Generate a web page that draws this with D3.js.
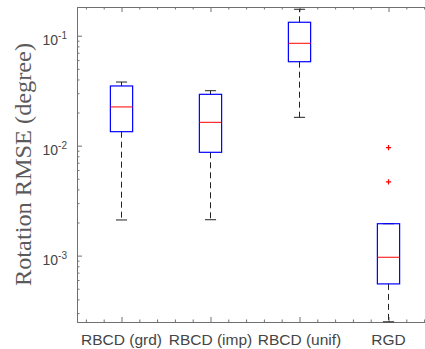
<!DOCTYPE html>
<html>
<head>
<meta charset="utf-8">
<script src="https://cdn.jsdelivr.net/npm/d3@7"></script>
<style>
  html, body { margin: 0; padding: 0; background: #fff; }
  svg { display: block; }
</style>
</head>
<body>
<div id="chart"></div>
<script>
// valores (RMSE de rotacion, escala log)
const categorias = ['RBCD (grd)', 'RBCD (imp)', 'RBCD (unif)', 'RGD'];
const bigoteInferior = [0.00211, 0.00212, 0.0181, 0.00025];
const cuartil1 = [0.0134, 0.0087, 0.058, 0.000553];
const medianas = [0.0225, 0.0163, 0.0853, 0.000966];
const cuartil3 = [0.0349, 0.0293, 0.1325, 0.00195];
const bigoteSuperior = [0.0379, 0.0316, 0.174, 0.00195];
const atipicos = [[], [], [], [0.0096, 0.00468]];
const exponentesY = [-3, -2, -1];
const tituloY = 'Rotation RMSE (degree)';

const ancho = 425, alto = 349;
const margen = { izq: 77, der: 433, arriba: 7, abajo: 322 };

const svg = d3.select('#chart').append('svg')
    .attr('width', ancho)
    .attr('height', alto);

const escalaX = d3.scaleLinear().domain([0.5, 4.5]).range([margen.izq, margen.der]);
const escalaY = d3.scaleLog().domain([2.49e-4, 0.1824]).range([margen.abajo, margen.arriba]);

const colorEje = '#707070';
const colorTexto = '#454545';

// ticks menores del eje log: 2..9 x 10^k
const ticksMenoresY = [];
for (let k = -4; k <= -1; k++) {
    for (let m = 2; m <= 9; m++) {
        const v = m * Math.pow(10, k);
        if (v >= escalaY.domain()[0] && v <= escalaY.domain()[1]) ticksMenoresY.push(v);
    }
}
const ticksMayoresY = exponentesY.map(e => Math.pow(10, e));

// ticks menores del eje x cada 0.2
const ticksMenoresX = d3.range(0.6, 4.5, 0.2).map(v => +v.toFixed(1))
    .filter(v => Math.abs(v - Math.round(v)) > 1e-6);
const ticksMayoresX = categorias.map((c, i) => i + 1);

function estilarEje(g) {
    g.selectAll('path, line').attr('stroke', colorEje);
    g.selectAll('text').remove();
}

// eje izquierdo
svg.append('g').attr('transform', `translate(${margen.izq},0)`)
    .call(d3.axisLeft(escalaY).tickValues(ticksMenoresY).tickSizeInner(-2.5).tickSizeOuter(0).tickFormat(''))
    .call(estilarEje);
svg.append('g').attr('transform', `translate(${margen.izq},0)`)
    .call(d3.axisLeft(escalaY).tickValues(ticksMayoresY).tickSizeInner(-5).tickSizeOuter(0).tickFormat(''))
    .call(estilarEje);

// ejes superior e inferior
[['top', margen.arriba], ['bottom', margen.abajo]].forEach(([lado, pos]) => {
    const crear = lado === 'top' ? d3.axisTop : d3.axisBottom;
    svg.append('g').attr('transform', `translate(0,${pos})`)
        .call(crear(escalaX).tickValues(ticksMenoresX).tickSizeInner(-2.5).tickSizeOuter(0).tickFormat(''))
        .call(estilarEje);
    svg.append('g').attr('transform', `translate(0,${pos})`)
        .call(crear(escalaX).tickValues(ticksMayoresX).tickSizeInner(-5).tickSizeOuter(0).tickFormat(''))
        .call(estilarEje);
});

// etiquetas de categorias
svg.append('g')
    .selectAll('text')
    .data(categorias)
    .enter().append('text')
    .attr('x', (d, i) => escalaX(i + 1))
    .attr('y', 345)
    .attr('text-anchor', 'middle')
    .attr('font-family', '"Liberation Sans", Arial, sans-serif')
    .attr('font-size', 15.5)
    .attr('fill', colorTexto)
    .text(d => d);

// etiquetas 10^k
const etiquetasY = svg.append('g')
    .selectAll('text')
    .data(exponentesY)
    .enter().append('text')
    .attr('x', 67)
    .attr('y', d => escalaY(Math.pow(10, d)) + 9)
    .attr('text-anchor', 'end')
    .attr('font-family', '"Liberation Sans", Arial, sans-serif')
    .attr('font-size', 14)
    .attr('fill', colorTexto);
etiquetasY.append('tspan').text('10');
etiquetasY.append('tspan')
    .attr('dy', -6)
    .attr('font-size', 10)
    .text(d => '-' + Math.abs(d));

// titulo del eje y
svg.append('text')
    .attr('transform', `translate(31,${(margen.arriba + margen.abajo) / 2}) rotate(-90)`)
    .attr('text-anchor', 'middle')
    .attr('font-family', '"Liberation Serif", "Times New Roman", serif')
    .attr('font-size', 23)
    .attr('textLength', 243)
    .attr('lengthAdjust', 'spacingAndGlyphs')
    .attr('fill', '#5a5a5a')
    .text(tituloY);

// cajas
const anchoCaja = escalaX(0.75) - escalaX(0.5);
const anchoTope = escalaX(0.625) - escalaX(0.5);
const cajas = svg.append('g')
    .selectAll('g')
    .data(categorias.map((c, i) => i))
    .enter().append('g');

// bigotes discontinuos
cajas.append('line')
    .attr('x1', i => escalaX(i + 1)).attr('x2', i => escalaX(i + 1))
    .attr('y1', i => escalaY(cuartil3[i])).attr('y2', i => escalaY(bigoteSuperior[i]))
    .attr('stroke', '#222').attr('stroke-dasharray', '6,4');
cajas.append('line')
    .attr('x1', i => escalaX(i + 1)).attr('x2', i => escalaX(i + 1))
    .attr('y1', i => escalaY(cuartil1[i])).attr('y2', i => escalaY(bigoteInferior[i]))
    .attr('stroke', '#222').attr('stroke-dasharray', '6,4');

// topes
[bigoteSuperior, bigoteInferior].forEach(valores => {
    cajas.append('line')
        .attr('x1', i => escalaX(i + 1) - anchoTope / 2)
        .attr('x2', i => escalaX(i + 1) + anchoTope / 2)
        .attr('y1', i => escalaY(valores[i]))
        .attr('y2', i => escalaY(valores[i]))
        .attr('stroke', '#222');
});

cajas.append('rect')
    .attr('x', i => escalaX(i + 1) - anchoCaja / 2)
    .attr('width', anchoCaja)
    .attr('y', i => escalaY(cuartil3[i]))
    .attr('height', i => escalaY(cuartil1[i]) - escalaY(cuartil3[i]))
    .attr('fill', 'none')
    .attr('stroke', '#0000ff')
    .attr('stroke-width', 1.2);

cajas.append('line')
    .attr('x1', i => escalaX(i + 1) - anchoCaja / 2)
    .attr('x2', i => escalaX(i + 1) + anchoCaja / 2)
    .attr('y1', i => escalaY(medianas[i]))
    .attr('y2', i => escalaY(medianas[i]))
    .attr('stroke', '#ff0000');

// valores atipicos
const puntosAtipicos = [];
atipicos.forEach((lista, i) => lista.forEach(v => puntosAtipicos.push({ i, v })));
svg.append('g')
    .selectAll('path')
    .data(puntosAtipicos)
    .enter().append('path')
    .attr('d', p => {
        const cx = escalaX(p.i + 1), cy = escalaY(p.v), r = 2.6;
        return `M${cx - r},${cy}H${cx + r}M${cx},${cy - r}V${cy + r}`;
    })
    .attr('stroke', '#ff0000')
    .attr('stroke-width', 1.2)
    .attr('fill', 'none');
</script>
</body>
</html>
